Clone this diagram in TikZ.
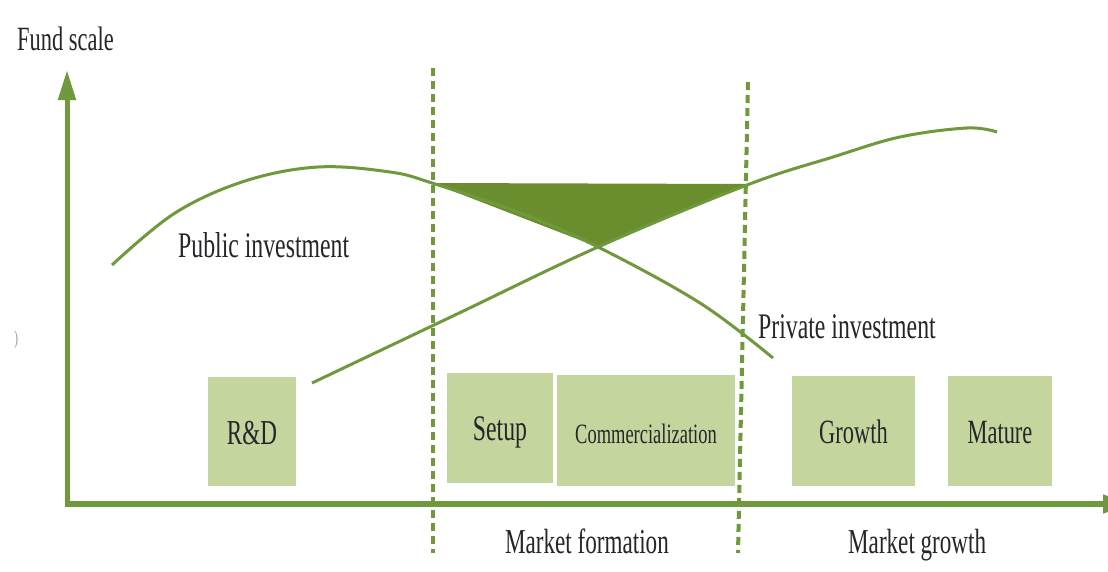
\documentclass[tikz,border=0pt]{standalone}
\usepackage{fontspec}
\setmainfont{Liberation Serif}
\usepackage{graphicx}
\usetikzlibrary{arrows.meta}
\definecolor{linegreen}{RGB}{112,152,60}
\definecolor{fillgreen}{RGB}{106,142,46}
\definecolor{boxgreen}{RGB}{197,213,158}
\definecolor{textgray}{RGB}{38,38,42}
\newcommand{\narrowtxt}[2]{\scalebox{0.66}[1]{\fontsize{#1}{#1}\selectfont #2}}
\begin{document}
\begin{tikzpicture}[x=1pt,y=-1pt,
  lbl/.style={inner sep=0pt, text=textgray, anchor=base west},
  stage/.style={fill=boxgreen, inner sep=0pt, text=textgray, text height=25pt, text depth=0pt},
  curve/.style={draw=linegreen, line width=3pt},
  divider/.style={draw=linegreen, line width=4pt, dash pattern=on 8pt off 5pt},
  axis/.style={draw=linegreen, -{Triangle[length=30pt,width=17pt]}}
]
\clip (0,0) rectangle (1108,571);
\fill[white] (0,0) rectangle (1108,571);

% coordinates
\coordinate (tl) at (432,183);
\coordinate (tr) at (747,184);
\coordinate (cross) at (598,247);

% shaded gap
\fill[fillgreen] (tl) -- (tr) -- (cross) -- cycle;

% public investment curve
\draw[curve] plot[smooth, tension=0.6] coordinates {(112,265) (175,213) (245,181) (318,167) (390,172) (432,183) (520,213) (598,247) (700,303) (773,358)};
% private investment curve
\draw[curve] plot[smooth, tension=0.6] coordinates {(312,383) (455,315) (598,247) (747,185) (833,157) (900,137) (967,128) (997,132)};

% dashed dividers
\coordinate (d1t) at (433,68);
\coordinate (d1b) at (433,553);
\coordinate (d2t) at (748,82);
\coordinate (d2b) at (738,553);
\draw[divider] (d1t) -- (d1b);
\draw[divider] (d2t) -- (d2b);

% stages
\node[stage, minimum width=88pt, minimum height=109pt] (rd) at (252,431.5) {\narrowtxt{35}{R\&D}};
\node[stage, minimum width=106pt, minimum height=110pt] (setup) at (500,428) {\narrowtxt{36}{Setup}};
\node[stage, minimum width=178pt, minimum height=111pt] (comm) at (646,430.5) {\narrowtxt{28}{Commercialization}};
\node[stage, minimum width=123pt, minimum height=110pt] (growth) at (853.5,431) {\narrowtxt{34}{Growth}};
\node[stage, minimum width=104pt, minimum height=110pt] (mature) at (1000,431) {\narrowtxt{34}{Mature}};

% axes
\coordinate (origin) at (67,504);
\coordinate (ytop) at (67,70);
\coordinate (xend) at (1133,504);
\draw[axis, line width=5pt] (67,507) -- (ytop);
\draw[axis, line width=6.5pt] (64.5,504) -- (xend);

% labels
\node[lbl] (fund) at (17,50) {\narrowtxt{34}{Fund scale}};
\node[lbl] (pub) at (178,257) {\narrowtxt{36}{Public investment}};
\node[lbl] (priv) at (758,338) {\narrowtxt{36}{Private investment}};
\node[lbl] (mform) at (505,553) {\narrowtxt{35}{Market formation}};
\node[lbl] (mgrow) at (848,553) {\narrowtxt{35}{Market growth}};
\node[inner sep=0pt, text=gray!70] (paren) at (16,340) {\narrowtxt{20}{)}};
\end{tikzpicture}
\end{document}
